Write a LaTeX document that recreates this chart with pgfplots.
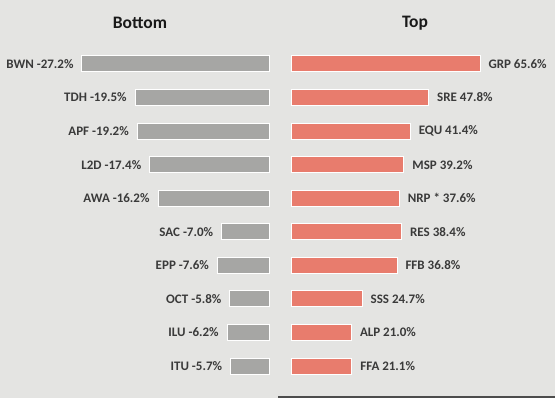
\documentclass[border=0pt]{standalone}
\usepackage{pgfplots}
\pgfplotsset{compat=1.18}
\usepackage{fontspec}
\setmainfont{Carlito}
\definecolor{bg}{HTML}{E4E4E2}
\definecolor{barg}{HTML}{A6A6A4}
\definecolor{barr}{HTML}{E87C6D}
\definecolor{lab}{HTML}{3A3A3A}
\begin{document}
\begin{tikzpicture}[x=1pt,y=1pt]
\fill[bg] (0,0) rectangle (555,398);
\useasboundingbox (0,0) rectangle (555,398);
\fill[black!70] (278,0) rectangle (555,2);
\node[font=\fontsize{17.5}{20}\selectfont\bfseries, text=black!90] at (140,375) {Bottom};
\node[font=\fontsize{17.5}{20}\selectfont\bfseries, text=black!90] at (415,375) {Top};
\begin{axis}[
  at={(82pt,15.2pt)}, anchor=south west, scale only axis,
  width=188pt, height=335.6pt,
  xmin=0, xmax=27.2, x dir=reverse,
  ymin=-0.5, ymax=9.5, y dir=reverse,
  hide axis, clip=false,
  xbar, bar width=16pt,
  nodes near coords, point meta=explicit symbolic,
  every node near coord/.append style={anchor=east, inner sep=0pt, xshift=-8pt,
     font=\fontsize{13}{15}\selectfont\bfseries, text=lab},
]
\addplot[fill=barg, draw=white, line width=1pt] coordinates {
(27.2,0) [BWN -27.2\%]
(19.5,1) [TDH -19.5\%]
(19.2,2) [APF -19.2\%]
(17.4,3) [L2D -17.4\%]
(16.2,4) [AWA -16.2\%]
(7.0,5) [SAC -7.0\%]
(7.6,6) [EPP -7.6\%]
(5.8,7) [OCT -5.8\%]
(6.2,8) [ILU -6.2\%]
(5.7,9) [ITU -5.7\%]
};
\end{axis}
\begin{axis}[
  at={(291pt,15.2pt)}, anchor=south west, scale only axis,
  width=189pt, height=335.6pt,
  xmin=0, xmax=65.6,
  ymin=-0.5, ymax=9.5, y dir=reverse,
  hide axis, clip=false,
  xbar, bar width=16pt,
  nodes near coords, point meta=explicit symbolic,
  every node near coord/.append style={anchor=west, inner sep=0pt, xshift=8pt,
     font=\fontsize{13}{15}\selectfont\bfseries, text=lab},
]
\addplot[fill=barr, draw=white, line width=1pt] coordinates {
(65.6,0) [GRP 65.6\%]
(47.8,1) [SRE 47.8\%]
(41.4,2) [EQU 41.4\%]
(39.2,3) [MSP 39.2\%]
(37.6,4) [NRP * 37.6\%]
(38.4,5) [RES 38.4\%]
(36.8,6) [FFB 36.8\%]
(24.7,7) [SSS 24.7\%]
(21.0,8) [ALP 21.0\%]
(21.1,9) [FFA 21.1\%]
};
\end{axis}
\end{tikzpicture}
\end{document}
